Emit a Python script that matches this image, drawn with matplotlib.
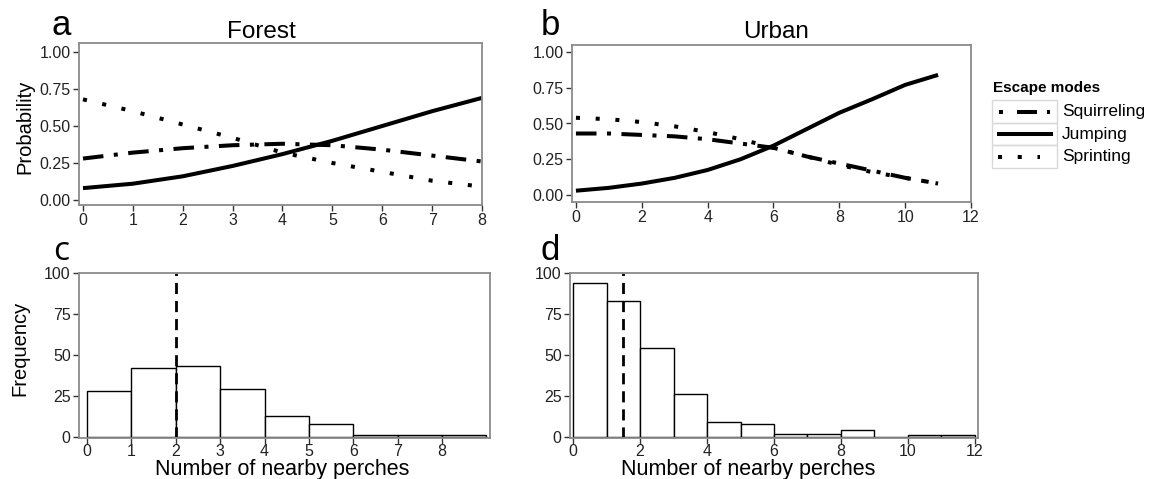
import matplotlib
matplotlib.use("Agg")
from matplotlib import pyplot as plt
from matplotlib.patches import Rectangle
import numpy as np

plt.rcParams['font.family'] = ['Liberation Sans', 'DejaVu Sans']

# probability curves
forest_x = [0, 1, 2, 3, 4, 5, 6, 7, 8]
forest_squirreling = [0.28, 0.32, 0.35, 0.37, 0.38, 0.37, 0.34, 0.30, 0.26]
forest_jumping = [0.08, 0.11, 0.16, 0.23, 0.31, 0.40, 0.50, 0.60, 0.69]
forest_sprinting = [0.68, 0.60, 0.51, 0.42, 0.32, 0.25, 0.19, 0.13, 0.09]

urban_x = [0, 1, 2, 3, 4, 5, 6, 7, 8, 9, 10, 11]
urban_squirreling = [0.43, 0.43, 0.42, 0.41, 0.39, 0.36, 0.33, 0.27, 0.22, 0.17, 0.12, 0.08]
urban_jumping = [0.03, 0.05, 0.08, 0.12, 0.175, 0.25, 0.345, 0.46, 0.575, 0.67, 0.77, 0.84]
urban_sprinting = [0.54, 0.53, 0.51, 0.48, 0.44, 0.39, 0.33, 0.27, 0.21, 0.16, 0.12, 0.08]

# histograms of nearby perches (bin left edges, counts)
forest_bins = [0, 1, 2, 3, 4, 5, 6, 7, 8]
forest_counts = [28, 42, 43, 29, 13, 8, 1, 1, 1]
forest_median = 2.0

urban_bins = [0, 1, 2, 3, 4, 5, 6, 7, 8, 9, 10, 11]
urban_counts = [94, 83, 54, 26, 9, 8, 2, 2, 4, 0, 1, 1]
urban_median = 1.5

modes = ["Squirreling", "Jumping", "Sprinting"]
styles = {
    "Squirreling": (0, (5.1, 2.6, 1, 2.6)),
    "Jumping": "-",
    "Sprinting": (0, (1, 3.9)),
}

W, H = 1151, 479
fig = plt.figure(figsize=(W / 100, H / 100), dpi=100)

def add_ax(l, r, t, b):
    return fig.add_axes([l / W, 1 - b / H, (r - l) / W, (b - t) / H])

def style_ax(ax):
    for s in ax.spines.values():
        s.set_color("#8a8a8a")
        s.set_linewidth(1.3)
    ax.tick_params(direction="out", length=4, width=1, color="#333333",
                   labelsize=11.5, labelcolor="#222222", pad=2)

ax_a = add_ax(79, 482, 43, 205)
ax_b = add_ax(572, 971, 45, 202)
ax_c = add_ax(79, 490, 273, 438)
ax_d = add_ax(570, 978, 273, 438)

lw = 2.9
for ax, x, sq, ju, sp in [(ax_a, forest_x, forest_squirreling, forest_jumping, forest_sprinting),
                          (ax_b, urban_x, urban_squirreling, urban_jumping, urban_sprinting)]:
    for name, vals in zip(modes, [sq, ju, sp]):
        ax.plot(x, vals, color="black", lw=lw, linestyle=styles[name],
                dash_capstyle="butt", solid_capstyle="butt")
    ax.set_yticks([0, 0.25, 0.5, 0.75, 1.0])
    ax.set_yticklabels(["0.00", "0.25", "0.50", "0.75", "1.00"])
    style_ax(ax)

ax_a.set_xlim(-0.08, 8)
ax_a.set_ylim(-0.034, 1.061)
ax_a.set_xticks(range(0, 9))
ax_b.set_xlim(-0.12, 12)
ax_b.set_ylim(-0.049, 1.049)
ax_b.set_xticks(range(0, 13, 2))

for ax, bins, counts, med in [(ax_c, forest_bins, forest_counts, forest_median),
                              (ax_d, urban_bins, urban_counts, urban_median)]:
    ax.bar(bins, counts, width=1, align="edge", color="white", edgecolor="black", linewidth=1)
    ax.axvline(med, color="black", lw=2, linestyle=(0, (4, 2.5)))
    ax.set_ylim(-0.6, 100)
    ax.set_yticks([0, 25, 50, 75, 100])
    style_ax(ax)
    ax.tick_params(axis="x", pad=0.5)

ax_c.set_xlim(-0.18, 9.08)
ax_c.set_xticks(range(0, 9))
ax_d.set_xlim(-0.09, 12.09)
ax_d.set_xticks(range(0, 13, 2))

# overlay in pixel coordinates for labels and legend
ov = fig.add_axes([0, 0, 1, 1])
ov.set_xlim(0, W)
ov.set_ylim(H, 0)
ov.axis("off")

ov.text(61, 35, "a", fontsize=25, ha="center", va="baseline")
ov.text(550, 35, "b", fontsize=25, ha="center", va="baseline")
ov.text(61, 260, "c", fontsize=24, ha="center", va="baseline", family=["Open Sans", "DejaVu Sans"])
ov.text(550, 260, "d", fontsize=25, ha="center", va="baseline")

ov.text(261, 38, "Forest", fontsize=17.5, ha="center", va="baseline")
ov.text(776, 38, "Urban", fontsize=17.5, ha="center", va="baseline")

ov.text(25, 127, "Probability", fontsize=14.5, rotation=90, ha="center", va="center")
ov.text(20, 348, "Frequency", fontsize=14.5, rotation=90, ha="center", va="center")
ov.text(282, 475, "Number of nearby perches", fontsize=15.5, ha="center", va="baseline")
ov.text(748, 475, "Number of nearby perches", fontsize=15.5, ha="center", va="baseline")

# legend
ov.text(993, 88, "Escape modes", fontsize=11, fontweight="bold", ha="left", va="center")
rows = [111.5, 134, 156.5]
for name, yc in zip(modes, rows):
    ov.add_patch(Rectangle((992, yc - 11.3), 65, 22.6, fill=False, edgecolor="#d9d9d9", lw=1))
    ov.text(1062, yc, name, fontsize=12.5, ha="left", va="center")
yq, yj, ys = rows
for x0, x1 in [(999, 1003), (1017, 1037), (1047, 1050)]:
    ov.plot([x0, x1], [yq, yq], color="black", lw=lw, solid_capstyle="butt")
ov.plot([997, 1053], [yj, yj], color="black", lw=lw, solid_capstyle="butt")
ov.plot([998, 1040], [ys, ys], color="black", lw=lw, linestyle=styles["Sprinting"], dash_capstyle="butt")

fig.savefig("out.png", dpi=100)
